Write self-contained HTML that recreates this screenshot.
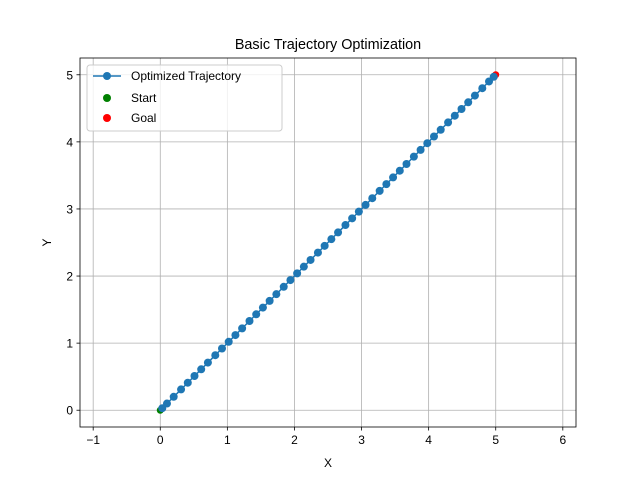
<!DOCTYPE html>
<html><head><meta charset="utf-8"><style>
body{margin:0;background:#fff;}
svg{display:block;font-family:"Liberation Sans","DejaVu Sans",sans-serif;}
</style></head><body>
<svg id="chart" width="640" height="480"></svg>
<script>
const trajX=[0.03,0.10,0.20,0.31,0.41,0.51,0.61,0.71,0.82,0.92,1.02,1.12,1.22,1.33,1.43,1.53,1.63,1.73,1.84,1.94,2.04,2.14,2.24,2.35,2.45,2.55,2.65,2.76,2.86,2.96,3.06,3.16,3.27,3.37,3.47,3.57,3.67,3.78,3.88,3.98,4.08,4.18,4.29,4.39,4.49,4.59,4.69,4.80,4.90,4.97];
const trajY=[0.03,0.10,0.20,0.31,0.41,0.51,0.61,0.71,0.82,0.92,1.02,1.12,1.22,1.33,1.43,1.53,1.63,1.73,1.84,1.94,2.04,2.14,2.24,2.35,2.45,2.55,2.65,2.76,2.86,2.96,3.06,3.16,3.27,3.37,3.47,3.57,3.67,3.78,3.88,3.98,4.08,4.18,4.29,4.39,4.49,4.59,4.69,4.80,4.90,4.97];
const startPt=[0,0];
const goalPt=[5,5];
const xTicks=[-1,0,1,2,3,4,5,6];
const yTicks=[0,1,2,3,4,5];

const NS='http://www.w3.org/2000/svg';
const svg=document.getElementById('chart');
const L=80,R=576,T=58,B=427;
const yMin=-0.25,yMax=5.25;
const k=(B-T)/(yMax-yMin);
const xC=2.5, xMin=xC-(R-L)/2/k;
const sx=v=>L+(v-xMin)*k;
const sy=v=>B-(v-yMin)*k;
function mk(tag,attrs,parent){const e=document.createElementNS(NS,tag);for(const a in attrs)e.setAttribute(a,attrs[a]);(parent||svg).appendChild(e);return e;}

const grid=mk('g',{});


xTicks.forEach(t=>{
  mk('line',{x1:sx(t),x2:sx(t),y1:T,y2:B,stroke:'#b0b0b0','stroke-width':0.8},grid);
  mk('line',{x1:sx(t),x2:sx(t),y1:B,y2:B+3.5,stroke:'#000','stroke-width':0.8});
  const tx=mk('text',{x:sx(t),y:B+17,'text-anchor':'middle','font-size':12});
  tx.textContent=t<0?'\u2212'+Math.abs(t):t;
  
  
});
yTicks.forEach(t=>{
  mk('line',{x1:L,x2:R,y1:sy(t),y2:sy(t),stroke:'#b0b0b0','stroke-width':0.8},grid);
  mk('line',{x1:L-3.5,x2:L,y1:sy(t),y2:sy(t),stroke:'#000','stroke-width':0.8});
  const tx=mk('text',{x:L-7,y:sy(t)+4.5,'text-anchor':'end','font-size':12});
  tx.textContent=t;
  
  
});

const s=mk('circle',{cx:sx(startPt[0]),cy:sy(startPt[1]),r:3.5,fill:'green'});


const g=mk('circle',{cx:sx(goalPt[0]),cy:sy(goalPt[1]),r:3.5,fill:'red'});



const series=mk('g',{});


mk('polyline',{points:trajX.map((x,i)=>sx(x)+','+sy(trajY[i])).join(' '),fill:'none',stroke:'#1f77b4','stroke-width':1.5},series);
trajX.forEach((x,i)=>{
  const c=mk('circle',{cx:sx(x),cy:sy(trajY[i]),r:4,fill:'#1f77b4'},series);
  
  
});

mk('rect',{x:L,y:T,width:R-L,height:B-T,fill:'none',stroke:'#000','stroke-width':0.8});

const title=mk('text',{x:(L+R)/2,y:49,'text-anchor':'middle','font-size':14.4});
title.textContent='Basic Trajectory Optimization';


const xl=mk('text',{x:(L+R)/2,y:467,'text-anchor':'middle','font-size':12});
xl.textContent='X';


const yl=mk('text',{x:0,y:0,'text-anchor':'middle','font-size':12,transform:`translate(51,${(T+B)/2}) rotate(-90)`});
yl.textContent='Y';



const leg=mk('g',{});


mk('rect',{x:87,y:65,width:195,height:66,rx:3,fill:'#fff','fill-opacity':0.8,stroke:'#ccc','stroke-width':1},leg);
mk('line',{x1:93,x2:121,y1:76,y2:76,stroke:'#1f77b4','stroke-width':1.5},leg);
mk('circle',{cx:107,cy:76,r:4,fill:'#1f77b4'},leg);
mk('circle',{cx:107,cy:98,r:4,fill:'green'},leg);
mk('circle',{cx:107,cy:118,r:4,fill:'red'},leg);
[['Optimized Trajectory',80],['Start',102],['Goal',122]].forEach(([t,y])=>{
  const e=mk('text',{x:131,y:y,'font-size':12},leg);
  e.textContent=t;
  
  
});
</script>
</body></html>
